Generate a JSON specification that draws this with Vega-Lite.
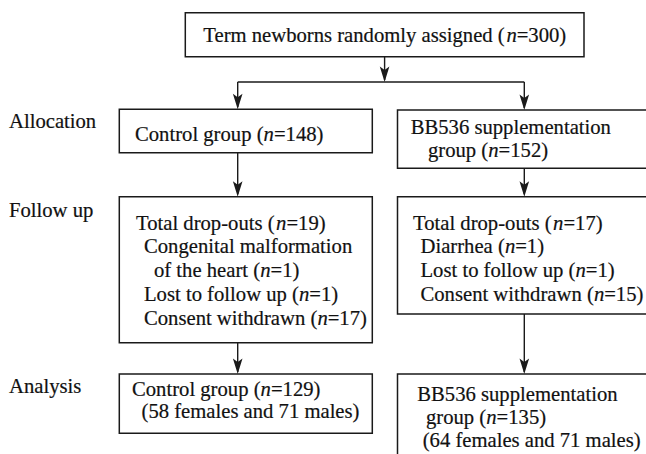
{
  "$schema": "https://vega.github.io/schema/vega-lite/v6.json",
  "width": 646,
  "height": 454,
  "autosize": {"type": "none"},
  "padding": 0,
  "background": "white",
  "config": {"view": {"stroke": null}},
  "datasets": {
    "boxes": [
      {"x": 185.3, "x2": 584, "y": 12.7, "y2": 56.7},
      {"x": 119.3, "x2": 372.3, "y": 109.3, "y2": 152.7},
      {"x": 397.5, "x2": 652, "y": 110, "y2": 168.3},
      {"x": 119.3, "x2": 372.3, "y": 196.7, "y2": 342.7},
      {"x": 397.5, "x2": 652, "y": 196.7, "y2": 314},
      {"x": 119.3, "x2": 372.3, "y": 374, "y2": 433.3},
      {"x": 397.5, "x2": 652, "y": 374, "y2": 462}
    ],
    "lines": [
      {"x": 384.6, "x2": 384.6, "y": 56.7, "y2": 80},
      {"x": 237.7, "x2": 524.3, "y": 82, "y2": 82},
      {"x": 237.7, "x2": 237.7, "y": 82, "y2": 107},
      {"x": 524.3, "x2": 524.3, "y": 82, "y2": 108},
      {"x": 237.7, "x2": 237.7, "y": 152.7, "y2": 194},
      {"x": 524.3, "x2": 524.3, "y": 168.3, "y2": 194},
      {"x": 237.7, "x2": 237.7, "y": 342.7, "y2": 372},
      {"x": 524.3, "x2": 524.3, "y": 314, "y2": 372}
    ],
    "arrows": [
      {"x": 384.6, "y": 82},
      {"x": 237.7, "y": 109.3},
      {"x": 524.3, "y": 110},
      {"x": 237.7, "y": 196.7},
      {"x": 524.3, "y": 196.7},
      {"x": 237.7, "y": 374},
      {"x": 524.3, "y": 374}
    ],
    "texts": [
      {"x": 9, "y": 128, "t": "Allocation"},
      {"x": 9, "y": 217, "t": "Follow up"},
      {"x": 9, "y": 393, "t": "Analysis"},
      {"x": 203.3, "y": 41.7, "t": "Term newborns randomly assigned ("},
      {"x": 516.7, "y": 41.7, "t": "=300)"},
      {"x": 135, "y": 141, "t": "Control group ("},
      {"x": 273.9, "y": 141, "t": "=148)"},
      {"x": 410.7, "y": 134, "t": "BB536 supplementation"},
      {"x": 428, "y": 157, "t": "group ("},
      {"x": 498.6, "y": 157, "t": "=152)"},
      {"x": 136, "y": 230, "t": "Total drop-outs ("},
      {"x": 286.4, "y": 230, "t": "=19)"},
      {"x": 144, "y": 253, "t": "Congenital malformation"},
      {"x": 154, "y": 277, "t": "of the heart ("},
      {"x": 270.5, "y": 277, "t": "=1)"},
      {"x": 144, "y": 301, "t": "Lost to follow up ("},
      {"x": 309.3, "y": 301, "t": "=1)"},
      {"x": 144, "y": 325, "t": "Consent withdrawn ("},
      {"x": 327.7, "y": 325, "t": "=17)"},
      {"x": 413, "y": 230, "t": "Total drop-outs ("},
      {"x": 563.4, "y": 230, "t": "=17)"},
      {"x": 420.5, "y": 253, "t": "Diarrhea ("},
      {"x": 515.2, "y": 253, "t": "=1)"},
      {"x": 420.5, "y": 277, "t": "Lost to follow up ("},
      {"x": 585.8, "y": 277, "t": "=1)"},
      {"x": 420.5, "y": 301, "t": "Consent withdrawn ("},
      {"x": 604.2, "y": 301, "t": "=15)"},
      {"x": 132, "y": 396, "t": "Control group ("},
      {"x": 270.9, "y": 396, "t": "=129)"},
      {"x": 141.5, "y": 418, "t": "(58 females and 71 males)"},
      {"x": 417.3, "y": 401, "t": "BB536 supplementation"},
      {"x": 426, "y": 424, "t": "group ("},
      {"x": 496.6, "y": 424, "t": "=135)"},
      {"x": 422.7, "y": 447, "t": "(64 females and 71 males)"}
    ],
    "italics": [
      {"x": 506.4, "y": 41.7, "t": "n"},
      {"x": 263.6, "y": 141, "t": "n"},
      {"x": 488.3, "y": 157, "t": "n"},
      {"x": 276.1, "y": 230, "t": "n"},
      {"x": 260.2, "y": 277, "t": "n"},
      {"x": 299.0, "y": 301, "t": "n"},
      {"x": 317.4, "y": 325, "t": "n"},
      {"x": 553.1, "y": 230, "t": "n"},
      {"x": 504.9, "y": 253, "t": "n"},
      {"x": 575.5, "y": 277, "t": "n"},
      {"x": 593.9, "y": 301, "t": "n"},
      {"x": 260.6, "y": 396, "t": "n"},
      {"x": 486.3, "y": 424, "t": "n"}
    ]
  },
  "layer": [
    {
      "data": {"name": "boxes"},
      "mark": {"type": "rect", "fill": "white", "stroke": "#1a1a1a", "strokeWidth": 1.5},
      "encoding": {
        "x": {"field": "x", "type": "quantitative", "scale": {"domain": [0, 646], "nice": false, "zero": false}, "axis": null},
        "x2": {"field": "x2"},
        "y": {"field": "y", "type": "quantitative", "scale": {"domain": [0, 454], "nice": false, "zero": false, "reverse": true}, "axis": null},
        "y2": {"field": "y2"}
      }
    },
    {
      "data": {"name": "lines"},
      "mark": {"type": "rule", "stroke": "#1a1a1a", "strokeWidth": 1.4},
      "encoding": {
        "x": {"field": "x", "type": "quantitative", "scale": {"domain": [0, 646], "nice": false, "zero": false}, "axis": null},
        "x2": {"field": "x2"},
        "y": {"field": "y", "type": "quantitative", "scale": {"domain": [0, 454], "nice": false, "zero": false, "reverse": true}, "axis": null},
        "y2": {"field": "y2"}
      }
    },
    {
      "data": {"name": "arrows"},
      "mark": {"type": "point", "shape": "M0,1L-0.62,-1L0,-0.55L0.62,-1Z", "filled": true, "size": 240, "color": "#1a1a1a", "opacity": 1, "strokeWidth": 0, "yOffset": -7.7},
      "encoding": {
        "x": {"field": "x", "type": "quantitative", "scale": {"domain": [0, 646], "nice": false, "zero": false}, "axis": null},
        "y": {"field": "y", "type": "quantitative", "scale": {"domain": [0, 454], "nice": false, "zero": false, "reverse": true}, "axis": null}
      }
    },
    {
      "data": {"name": "texts"},
      "mark": {"type": "text", "align": "left", "baseline": "alphabetic", "font": "Liberation Serif, Times New Roman, serif", "fontSize": 20.67, "color": "#111111", "stroke": "#111111", "strokeWidth": 0.2},
      "encoding": {
        "x": {"field": "x", "type": "quantitative", "scale": {"domain": [0, 646], "nice": false, "zero": false}, "axis": null},
        "y": {"field": "y", "type": "quantitative", "scale": {"domain": [0, 454], "nice": false, "zero": false, "reverse": true}, "axis": null},
        "text": {"field": "t"}
      }
    },
    {
      "data": {"name": "italics"},
      "mark": {"type": "text", "align": "left", "baseline": "alphabetic", "font": "Liberation Serif, Times New Roman, serif", "fontSize": 20.67, "fontStyle": "italic", "color": "#111111", "stroke": "#111111", "strokeWidth": 0.2},
      "encoding": {
        "x": {"field": "x", "type": "quantitative", "scale": {"domain": [0, 646], "nice": false, "zero": false}, "axis": null},
        "y": {"field": "y", "type": "quantitative", "scale": {"domain": [0, 454], "nice": false, "zero": false, "reverse": true}, "axis": null},
        "text": {"field": "t"}
      }
    }
  ]
}
